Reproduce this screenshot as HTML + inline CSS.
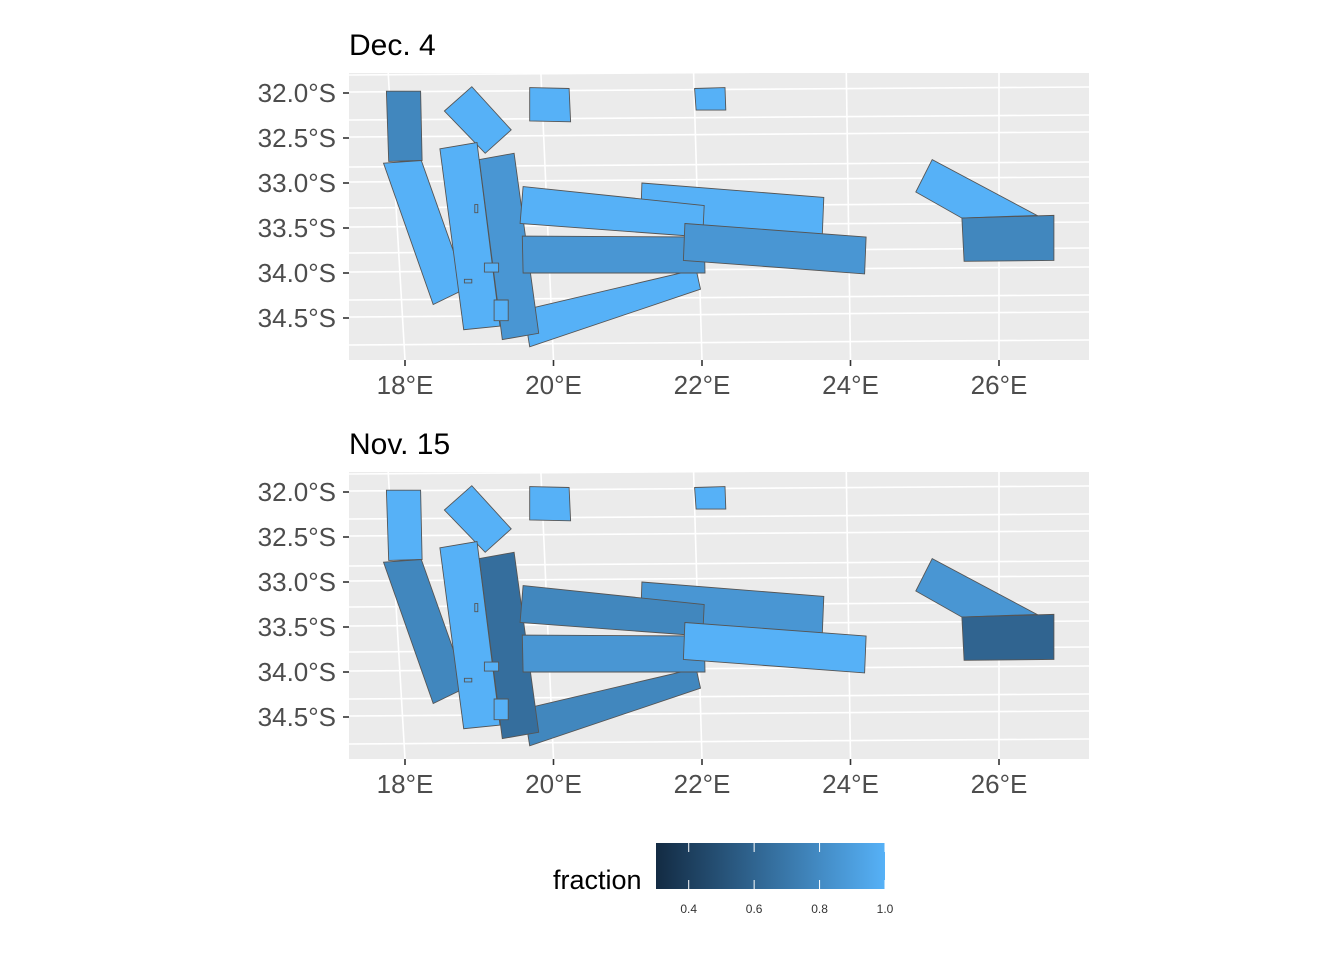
<!DOCTYPE html>
<html><head><meta charset="utf-8"><style>
html,body{margin:0;padding:0;background:#fff;}
svg{display:block;font-family:"Liberation Sans",Arial,sans-serif;}
</style></head><body>
<svg id="chart" width="1344" height="960" viewBox="0 0 1344 960"></svg>
<script>
const shapeNames=["zone-a","zone-b","zone-c","zone-d","zone-j","zone-e","zone-f","zone-h","zone-g","zone-i","zone-k","zone-l","zone-m","zone-n","zone-s1","zone-s2","zone-s3","zone-s4"];
const shapeLon=[
[17.75,18.21,18.23,17.78],[18.53,18.90,19.43,19.08],[19.68,20.21,20.23,19.68],[21.90,22.31,22.32,21.92],
[21.19,23.64,23.62,21.17],[17.71,18.22,18.83,18.38],[18.47,18.97,19.28,18.79],[19.60,21.92,21.98,19.68],
[19.00,19.47,19.80,19.31],[19.59,22.03,22.01,19.55],[19.58,22.03,22.04,19.59],[21.77,24.21,24.19,21.75],
[24.88,25.10,26.51,25.50],[25.50,26.74,26.74,25.53],[19.07,19.26,19.26,19.07],[19.20,19.39,19.39,19.20],
[18.94,18.98,18.98,18.94],[18.80,18.90,18.90,18.80]];
const shapeLat=[
[-31.98,-31.98,-32.75,-32.76],[-32.20,-31.93,-32.41,-32.67],[-31.94,-31.95,-32.32,-32.31],[-31.95,-31.94,-32.19,-32.19],
[-33.00,-33.16,-33.57,-33.49],[-32.78,-32.75,-34.17,-34.35],[-32.62,-32.55,-34.59,-34.63],[-34.41,-33.96,-34.18,-34.82],
[-32.74,-32.67,-34.67,-34.74],[-33.04,-33.25,-33.60,-33.45],[-33.59,-33.60,-34.00,-34.00],[-33.45,-33.60,-34.01,-33.86],
[-33.10,-32.74,-33.36,-33.39],[-33.39,-33.36,-33.86,-33.87],[-33.89,-33.89,-33.99,-33.99],[-34.30,-34.30,-34.53,-34.53],
[-33.24,-33.24,-33.33,-33.33],[-34.07,-34.07,-34.11,-34.11]];
const fracDec4=[0.78,1,1,1,1,1,1,1,0.86,1,0.86,0.86,1,0.78,1,1,1,1];
const fracNov15=[1,1,1,1,0.86,0.78,1,0.78,0.65,0.78,0.86,1,0.86,0.6,1,1,1,1];
const panelTitles=["Dec. 4","Nov. 15"];
const lonTicks=[18,20,22,24,26];
const latTicks=[-32,-32.5,-33,-33.5,-34,-34.5];
const legendTicks=[0.4,0.6,0.8,1.0];
const fMin=0.3,fMax=1.0;

const svg=document.getElementById('chart');
const NS="http://www.w3.org/2000/svg";
function mk(tag,attrs,parent){const e=document.createElementNS(NS,tag);for(const k in attrs)e.setAttribute(k,attrs[k]);(parent||svg).appendChild(e);return e;}
function xs(lon){return 405+(lon-18)*74.25;}
function ys(lat,off){return 93-(lat+32)*90+off;}
function col(f){const t=Math.max(0,Math.min(1,(f-fMin)/(fMax-fMin)));
 const a=[19,43,67],b=[86,177,247];return 'rgb('+a.map((v,i)=>Math.round(v+(b[i]-v)*t)).join(',')+')';}

const panels=[{off:0,frac:fracDec4},{off:399,frac:fracNov15}];
panels.forEach((p,pi)=>{
 const g=mk('g',{});
 
 
 const o=p.off;
 const bg=mk('rect',{x:349,y:73+o,width:740,height:287,fill:'#EBEBEB'},g);
 
 
 [75,92,120,137,167,182,208,227,253,272,300,317,345].forEach(yy=>{
  const l=mk('line',{x1:349,y1:yy+o,x2:1089,y2:yy+o-5,stroke:'#fff','stroke-width':1.6},g);
  
  
 });
 lonTicks.forEach(lon=>{
  const x=xs(lon);
  const l=mk('line',{x1:x-(26-lon)*2.1,y1:73+o,x2:x,y2:360+o,stroke:'#fff','stroke-width':1.6},g);
  
  
 });
 shapeNames.forEach((nm,i)=>{
  const pts=shapeLon[i].map((lo,k)=>xs(lo).toFixed(1)+','+ys(shapeLat[i][k],o).toFixed(1)).join(' ');
  const poly=mk('polygon',{points:pts,fill:col(p.frac[i]),stroke:'#555','stroke-width':0.9},g);
  
  
 });
 const t=mk('text',{x:349,y:55+o,'font-size':30,fill:'#000'},g);
 t.textContent=panelTitles[pi];
 
 
 latTicks.forEach(lat=>{
  const y=ys(lat,o);
  mk('line',{x1:343,y1:y,x2:349,y2:y,stroke:'#333','stroke-width':1.6},g);
  const tx=mk('text',{x:336,y:y+9,'font-size':26,fill:'#4D4D4D','text-anchor':'end'},g);
  tx.textContent=Math.abs(lat).toFixed(1)+'°S';
  
  
 });
 lonTicks.forEach(lon=>{
  const x=xs(lon);
  mk('line',{x1:x,y1:360+o,x2:x,y2:366+o,stroke:'#333','stroke-width':1.6},g);
  const tx=mk('text',{x:x,y:394+o,'font-size':26,fill:'#4D4D4D','text-anchor':'middle'},g);
  tx.textContent=lon+'°E';
  
  
 });
});

const lg=mk('g',{});


const defs=mk('defs',{},lg);
const grad=mk('linearGradient',{id:'lgGrad',x1:0,x2:1,y1:0,y2:0},defs);
mk('stop',{offset:0,'stop-color':col(fMin)},grad);
mk('stop',{offset:1,'stop-color':col(fMax)},grad);
const lx0=656,lx1=885;
function lxs(v){return lx0+(v-fMin)/(fMax-fMin)*(lx1-lx0);}
const bar=mk('rect',{x:lx0,y:843,width:lx1-lx0,height:46,fill:'url(#lgGrad)'},lg);


legendTicks.forEach(v=>{
 const x=lxs(v);
 mk('line',{x1:x,y1:843,x2:x,y2:852,stroke:'#fff','stroke-width':1},lg);
 mk('line',{x1:x,y1:880,x2:x,y2:889,stroke:'#fff','stroke-width':1},lg);
 const t=mk('text',{x:x,y:913,'font-size':12,fill:'#333','text-anchor':'middle'},lg);
 t.textContent=v.toFixed(1);
 
 
});
const lt=mk('text',{x:553,y:889,'font-size':27,fill:'#000'},lg);
lt.textContent='fraction';


</script>
</body></html>
